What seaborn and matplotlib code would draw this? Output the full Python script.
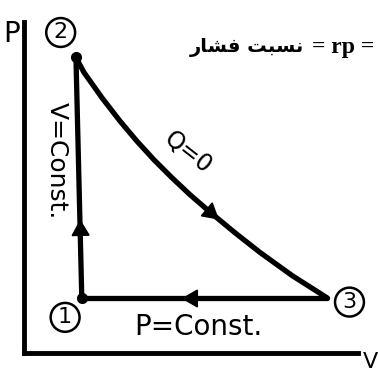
import numpy as np
import matplotlib
matplotlib.use('Agg')
import matplotlib.pyplot as plt
import seaborn as sns

# state points 1, 2, 3 of the cycle (V, P)
state_v = [1.09, 0.98, 5.72]
state_p = [1.04, 5.58, 1.04]
state_labels = ['1', '2', '3']

# adiabatic expansion 2 -> 3
adiabat_v = [0.98, 1.13, 1.47, 1.81, 2.13, 2.45, 2.79, 3.13, 3.51, 3.98, 4.45, 5.06, 5.72]
adiabat_p = [5.58, 5.30, 4.82, 4.38, 4.00, 3.65, 3.31, 2.99, 2.66, 2.27, 1.90, 1.46, 1.04]

# where the direction arrows sit on each leg
arrow_v = [1.06, 3.51, 3.17]
arrow_p = [2.32, 2.66, 1.04]

# "pressure ratio = rp =" (Persian in presentation forms, visual order)
header_fa = '\uFEAD\uFE8E\uFEB8\uFED3 \uFE96\uFE92\uFEB4\uFEE7'
header_sym = '= rp ='

sns.set_theme(style='white')
plt.rcParams['font.family'] = ['DejaVu Sans']
plt.rcParams['text.color'] = 'black'

fig = plt.figure(figsize=(3.79, 3.74), dpi=100)
ax = fig.add_axes([24 / 379, 21 / 374, 334 / 379, 331 / 374])
ax.set_xlim(0, 6.3)
ax.set_ylim(0, 6.25)
ax.set_xticks([])
ax.set_yticks([])
for side in ['top', 'right']:
    ax.spines[side].set_visible(False)
for side in ['left', 'bottom']:
    ax.spines[side].set_color('black')
    ax.spines[side].set_linewidth(3.5)

lw = 3.8
style = dict(color='black', lw=lw, ax=ax, sort=False,
             solid_capstyle='round', solid_joinstyle='round')
# 1 -> 2 constant volume
sns.lineplot(x=[state_v[0], state_v[1]], y=[state_p[0], state_p[1]], **style)
# 2 -> 3 adiabatic
sns.lineplot(x=adiabat_v, y=adiabat_p, **style)
# 3 -> 1 constant pressure
sns.lineplot(x=[state_v[2], state_v[0]], y=[state_p[2], state_p[0]], **style)
ax.plot(state_v[:2], state_p[:2], 'o', color='black', ms=7)

# arrow heads along the cycle direction
fig.canvas.draw()
tr = ax.transData.transform
segs = [((state_v[0], state_p[0]), (state_v[1], state_p[1])),
        ((adiabat_v[7], adiabat_p[7]), (adiabat_v[9], adiabat_p[9])),
        ((state_v[2], state_p[2]), (state_v[0], state_p[0]))]
for (a, b), x, y in zip(segs, arrow_v, arrow_p):
    (x0, y0), (x1, y1) = tr(a), tr(b)
    ang = np.degrees(np.arctan2(y1 - y0, x1 - x0))
    ax.plot([x], [y], marker=(3, 0, ang - 90), color='black', ms=14)

# circled state numbers
offsets = [(-12, -14), (-11, 18), (16, -3)]
for v, p, lab, off in zip(state_v, state_p, state_labels, offsets):
    ax.annotate(lab, (v, p), xytext=off, textcoords='offset points',
                ha='center', va='center', fontsize=16,
                bbox=dict(boxstyle='circle,pad=0.2', fc='none', ec='black', lw=1.8),
                annotation_clip=False)

ax.text(0.62, 3.64, 'V=Const.', rotation=-90, ha='center', va='center', fontsize=18)
ax.text(3.09, 3.79, 'Q=0', rotation=-38, ha='center', va='center', fontsize=17)
ax.text(3.28, 0.49, 'P=Const.', ha='center', va='center', fontsize=20)
ax.text(-0.23, 6.02, 'P', ha='center', va='center', fontsize=20, clip_on=False)
ax.text(6.53, -0.17, 'V', ha='center', va='center', fontsize=16, clip_on=False)
ax.text(5.28, 5.77, header_fa, ha='right', va='center', fontsize=14, fontweight='bold',
        clip_on=False)
ax.text(6.6, 5.77, header_sym, ha='right', va='center', fontsize=17, fontweight='bold',
        family=['Liberation Serif'], clip_on=False)

fig.savefig('out.png', dpi=100, facecolor='white')
